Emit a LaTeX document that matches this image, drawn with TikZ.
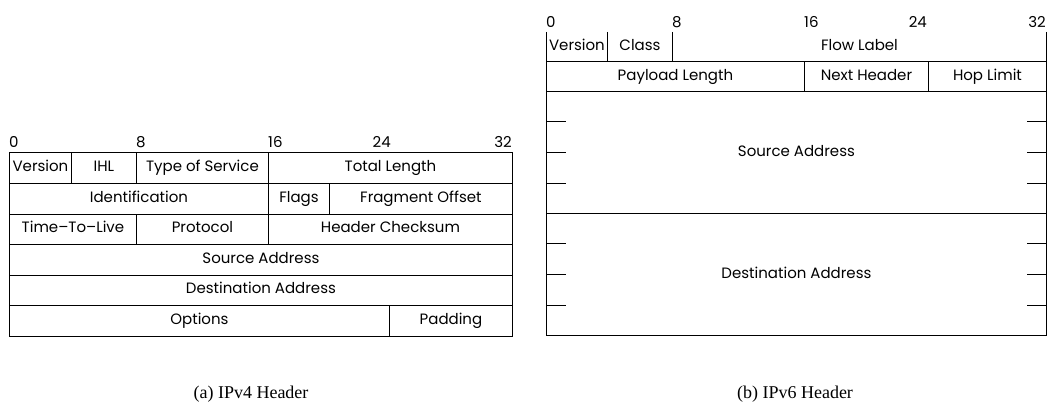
\documentclass[tikz,border=0pt]{standalone}
\usepackage{fontspec}
\setmainfont{Liberation Serif}
\newfontfamily\fieldfont[Ligatures=TeX]{Poppins}
\usetikzlibrary{calc}
\tikzset{
  hdr field/.style={
    draw=black,
    line width=0.9pt,
    inner sep=0pt,
    anchor=north west,
    minimum height=30.5pt,
    text height=10.5pt,
    text depth=3pt,
    font=\fieldfont\fontsize{15}{17}\selectfont
  },
  hdr open/.style={hdr field,draw=none},
  hdr rule/.style={draw=black,line width=0.9pt},
  bit mark/.style={inner sep=0pt,font=\fieldfont\fontsize{15}{17}\selectfont},
  sub caption/.style={inner sep=0pt,anchor=base,font=\fontsize{18}{20}\selectfont}
}

\begin{document}
\begin{tikzpicture}[x=1pt,y=-1pt]
  \useasboundingbox (0,0) rectangle (1052,409);

  % IPv4 header, five 32-bit words plus options
  \node[bit mark,anchor=base west] (v4b0) at (9,148) {0};
  \node[bit mark,anchor=base west] (v4b8) at (136,148) {8};
  \node[bit mark,anchor=base west] (v4b16) at (268,148) {16};
  \node[bit mark,anchor=base east] (v4b24) at (391,148) {24};
  \node[bit mark,anchor=base east] (v4b32) at (512,148) {32};

  \node[hdr field,minimum width=62pt] (v4ver) at (9,152.5) {Version};
  \node[hdr field,minimum width=65pt] (v4ihl) at (71,152.5) {IHL};
  \node[hdr field,minimum width=132pt] (v4tos) at (136,152.5) {Type of Service};
  \node[hdr field,minimum width=244pt] (v4len) at (268,152.5) {Total Length};

  \node[hdr field,minimum width=259pt] (v4id) at (9,183) {Identification};
  \node[hdr field,minimum width=61pt] (v4flags) at (268,183) {Flags};
  \node[hdr field,minimum width=183pt] (v4frag) at (329,183) {Fragment Offset};

  \node[hdr field,minimum width=127pt] (v4ttl) at (9,213.5) {Time--To--Live};
  \node[hdr field,minimum width=132pt] (v4proto) at (136,213.5) {Protocol};
  \node[hdr field,minimum width=244pt] (v4sum) at (268,213.5) {Header Checksum};

  \node[hdr field,minimum width=503pt] (v4src) at (9,244) {Source Address};
  \node[hdr field,minimum width=503pt] (v4dst) at (9,274.5) {Destination Address};

  \node[hdr field,minimum width=380pt] (v4opt) at (9,305) {Options};
  \node[hdr field,minimum width=123pt] (v4pad) at (389,305) {Padding};

  % IPv6 header, fixed 40 bytes
  \node[bit mark,anchor=base west] (v6b0) at (546,28) {0};
  \node[bit mark,anchor=base west] (v6b8) at (672,28) {8};
  \node[bit mark,anchor=base west] (v6b16) at (804,28) {16};
  \node[bit mark,anchor=base east] (v6b24) at (927,28) {24};
  \node[bit mark,anchor=base east] (v6b32) at (1046,28) {32};

  \node[hdr open,minimum width=61pt,minimum height=29pt] (v6ver) at (546,32) {Version};
  \node[hdr open,minimum width=65pt,minimum height=29pt] (v6class) at (607,32) {Class};
  \node[hdr open,minimum width=374pt,minimum height=29pt] (v6flow) at (672,32) {Flow Label};
  \draw[hdr rule] (v6ver.north west) -- (v6ver.south west);
  \draw[hdr rule] (v6class.north west) -- (v6class.south west);
  \draw[hdr rule] (v6flow.north west) -- (v6flow.south west);
  \draw[hdr rule] (v6flow.north east) -- (v6flow.south east);

  \node[hdr field,minimum width=258pt,minimum height=30pt] (v6len) at (546,61) {Payload Length};
  \node[hdr field,minimum width=124pt,minimum height=30pt] (v6next) at (804,61) {Next Header};
  \node[hdr field,minimum width=118pt,minimum height=30pt] (v6hop) at (928,61) {Hop Limit};

  \node[hdr field,minimum width=500pt,minimum height=122pt] (v6src) at (546,91) {Source Address};
  \node[hdr field,minimum width=500pt,minimum height=122pt] (v6dst) at (546,213) {Destination Address};

  % word marks on the 128-bit addresses
  \foreach \a in {v6src,v6dst}
    \foreach \f in {0.25,0.5,0.75} {
      \draw[hdr rule] ($(\a.north west)!\f!(\a.south west)$) -- ++(20,0);
      \draw[hdr rule] ($(\a.north east)!\f!(\a.south east)$) -- ++(-20,0);
    }

  \node[sub caption] (capv4) at (251,398) {(a) IPv4 Header};
  \node[sub caption] (capv6) at (795,398) {(b) IPv6 Header};
\end{tikzpicture}
\end{document}
